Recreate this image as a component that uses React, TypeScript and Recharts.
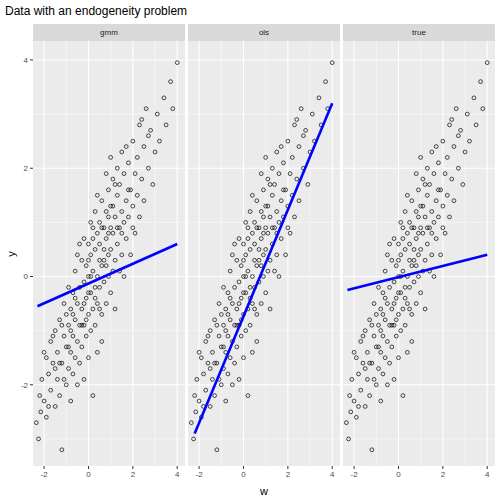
import { ComposedChart, Scatter, XAxis, YAxis, CartesianGrid } from 'recharts';

const panels = ['gmm', 'ols', 'true'];
const xTicks = [-2, 0, 2, 4];
const yTicks = [-2, 0, 2, 4];

// observations as [w, y]
const obs: number[][] = [
  [-2.35,-2.7],[-2.25,-3.0],[-2.2,-2.2],[-2.15,-2.5],[-2.1,-1.9],[-2.0,-2.3],[-1.9,-1.5],[-1.9,-2.6],[-1.8,-1.8],[-1.7,-2.1],
  [-1.7,-1.2],[-1.6,-1.6],[-1.5,-2.4],[-1.5,-1.0],[-1.4,-1.9],[-1.4,-1.4],[-1.3,-0.8],[-1.3,-2.2],[-1.2,-3.2],[-1.2,-1.6],
  [-1.1,-1.1],[-1.1,-0.5],[-1.0,-2.0],[-1.0,-1.3],[-1.0,-0.7],[-0.9,-1.7],[-0.9,-0.9],[-0.9,-0.2],[-0.8,-1.4],[-0.8,-0.6],
  [-0.8,-2.3],[-0.7,-1.1],[-0.7,-0.3],[-0.7,-1.8],[-0.6,-0.8],[-0.6,0.1],[-0.6,-1.5],[-0.5,-0.5],[-0.5,-1.2],[-0.5,0.4],
  [-0.5,-2.0],[-0.4,-0.9],[-0.4,-0.2],[-0.4,-1.6],[-0.3,-0.6],[-0.3,0.3],[-0.3,-1.3],[-0.2,-0.1],[-0.2,-0.9],[-0.2,0.7],
  [-0.2,-1.9],[-0.1,-0.4],[-0.1,0.2],[-0.1,-1.1],[0,-0.7],[0,0.0],[0,0.6],[0,-1.5],[0.1,-0.3],[0.1,0.4],
  [0.1,-1.0],[0.1,1.0],[0.2,-0.6],[0.2,0.1],[0.2,0.7],[0.2,-2.2],[0.3,-0.2],[0.3,0.5],[0.3,-0.9],[0.3,1.2],
  [0.4,0.0],[0.4,0.8],[0.4,-0.5],[0.4,-1.4],[0.5,0.3],[0.5,-0.2],[0.5,1.0],[0.5,0.6],[0.6,-0.7],[0.6,0.2],
  [0.6,1.4],[0.6,-1.2],[0.7,0.5],[0.7,-0.1],[0.7,0.9],[0.8,0.2],[0.8,1.2],[0.8,-0.5],[0.8,0.7],[0.9,0.0],
  [0.9,1.6],[0.9,0.4],[1.0,0.9],[1.0,-0.3],[1.0,1.3],[1.0,0.5],[1.1,0.1],[1.1,1.8],[1.1,0.8],[1.2,1.1],
  [1.2,0.3],[1.2,-0.6],[1.3,1.5],[1.3,0.6],[1.3,2.0],[1.4,0.9],[1.4,0.1],[1.4,1.7],[1.5,1.2],[1.5,0.4],
  [1.5,2.3],[1.6,1.0],[1.6,1.9],[1.6,0.0],[1.7,1.4],[1.7,0.7],[1.8,2.1],[1.8,1.1],[1.9,1.6],[1.9,0.4],
  [2.0,2.5],[2.0,1.3],[2.1,1.9],[2.1,0.8],[2.2,2.2],[2.2,1.5],[2.3,2.8],[2.3,1.1],[2.4,1.8],[2.5,2.4],
  [2.5,1.4],[2.6,3.1],[2.7,2.0],[2.8,2.7],[2.9,1.7],[3.0,2.3],[3.1,3.0],[3.2,2.5],[3.4,3.3],[3.5,2.8],
  [3.7,3.6],[3.8,3.1],[4.0,3.95],[-0.6,-0.4],[0.3,-0.4],[0.0,0.3],[-0.3,-0.9],[0.7,0.3],[-1.2,-0.9],[1.8,1.6],
  [0.9,0.8],[-0.8,-1.0],[0.2,0.9],[1.5,0.8],[-1.6,-1.1],[-2.0,-1.4],[1.2,1.7],[2.7,2.6],[-0.1,-0.8],[0.5,-0.6],
  [-1.8,-2.4],[0.8,1.9],[1.0,2.2],[-0.4,0.6],[-1.3,-1.6],[0.4,1.5],[2.0,0.9],[-0.9,-1.3],[0.6,0.9],[1.1,1.3],
  [-0.2,-0.5],[0.1,0.0],[1.7,2.4],[-1.1,-1.9],[0.9,1.1],[2.4,2.9],[-0.7,-0.7],[1.3,0.9],[-1.5,-1.7],[0.0,-0.3],
];

// fitted line end points per panel: [w0, y0, w1, y1]
const fits: Record<string, number[]> = {
  gmm: [-2.3, -0.55, 4.0, 0.6],
  ols: [-2.2, -2.9, 4.0, 3.2],
  true: [-2.3, -0.25, 4.0, 0.4],
};

const points = obs.map(([w, y]) => ({ w, y }));
const xDomain = [-2.5, 4.35];
const yDomain = [-3.5, 4.35];
const plotLefts = [33, 188, 343];
const panelW = 152;
const plotTop = 41;
const plotH = 425;
const font = 'Liberation Sans, Arial, sans-serif';

const Ring = (p: any) => (
  <circle cx={p.cx} cy={p.cy} r={1.9} fill="none" stroke="#000" strokeWidth={0.7} />
);

function Panel({ name, idx }: { name: string; idx: number }) {
  const f = fits[name];
  const line = [{ w: f[0], y: f[1] }, { w: f[2], y: f[3] }];
  const yAxisW = idx === 0 ? 33 : 0;
  return (
    <div style={{ position: 'absolute', left: plotLefts[idx] - yAxisW, top: plotTop }}>
      <ComposedChart width={panelW + yAxisW} height={plotH + 20} margin={{ top: 0, right: 0, bottom: 0, left: 0 }}>
        <CartesianGrid fill="#ebebeb" stroke="#fff" strokeWidth={0.5}
          horizontalValues={[-3, -1, 1, 3]} verticalValues={[-1, 1, 3]} />
        <CartesianGrid fill="none" stroke="#fff" strokeWidth={1.1}
          horizontalValues={yTicks} verticalValues={xTicks} />
        <XAxis type="number" dataKey="w" domain={xDomain} ticks={xTicks} height={20}
          axisLine={false} tickSize={3} tickLine={{ stroke: '#333' }}
          tick={{ fontSize: 8, fill: '#4d4d4d', fontFamily: font }} allowDataOverflow />
        <YAxis type="number" dataKey="y" domain={yDomain} ticks={yTicks} hide={idx !== 0} width={yAxisW}
          axisLine={false} tickSize={3} tickLine={{ stroke: '#333' }}
          tick={{ fontSize: 8, fill: '#4d4d4d', fontFamily: font }} allowDataOverflow />
        <Scatter data={points} shape={Ring} isAnimationActive={false} />
        <Scatter data={line} line={{ stroke: '#0000ff', strokeWidth: 2.6 }} shape={() => null}
          isAnimationActive={false} />
      </ComposedChart>
    </div>
  );
}

export default function App() {
  return (
    <div style={{ position: 'fixed', left: 0, top: 0, width: 504, height: 504, background: '#fff', fontFamily: font }}>
      <div style={{ position: 'absolute', left: 5, top: 4, fontSize: 12, color: '#000' }}>
        Data with an endogeneity problem
      </div>
      {panels.map((p, i) => (
        <div key={p} style={{
          position: 'absolute', left: plotLefts[i], top: 24, width: panelW, height: 17,
          background: '#d9d9d9', color: '#1a1a1a', fontSize: 8, textAlign: 'center', lineHeight: '17px',
        }}>{p}</div>
      ))}
      {panels.map((p, i) => <Panel key={p} name={p} idx={i} />)}
      <div style={{ position: 'absolute', left: 260, top: 485, fontSize: 11 }}>w</div>
      <div style={{ position: 'absolute', left: 8, top: 248, fontSize: 11, transform: 'rotate(-90deg)' }}>y</div>
    </div>
  );
}
